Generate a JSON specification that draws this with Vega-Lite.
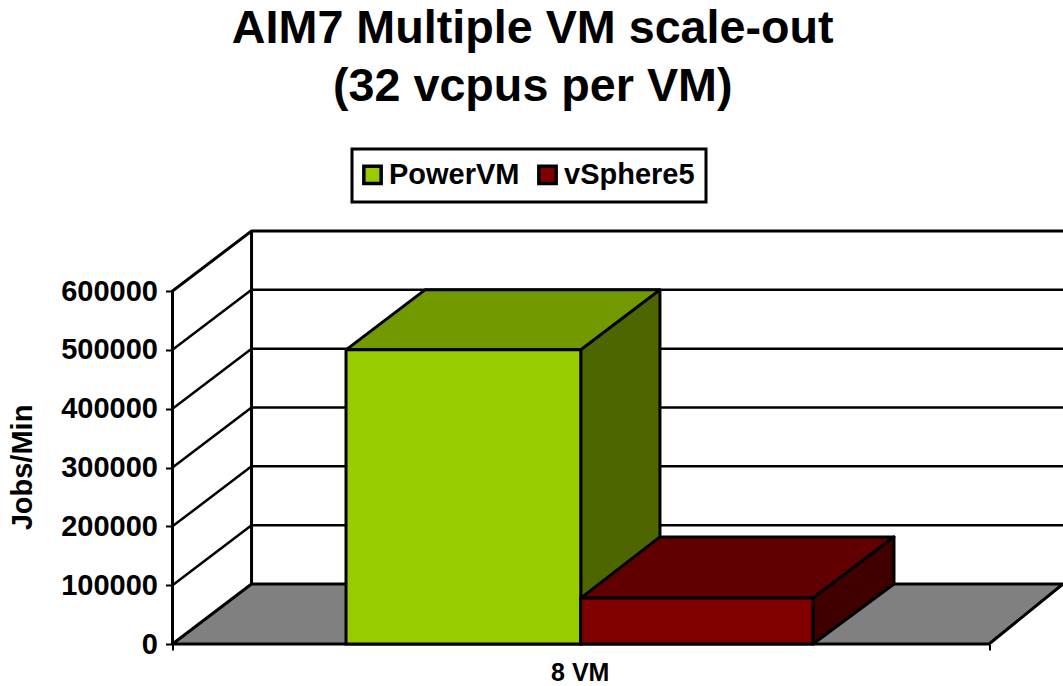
{
"$schema":"https://vega.github.io/schema/vega-lite/v6.json",
"width":890.5,"height":414,
"autosize":{"type":"none"},
"padding":{"left":172.5,"top":230,"right":0,"bottom":42},
"background":"white",
"view":{"stroke":null},
"title":{"text":["AIM7 Multiple VM scale-out","(32 vcpus per VM)"],"font":"Liberation Sans","fontWeight":"bold","fontSize":46.7,"lineHeight":58,"color":"#000000","anchor":"middle","dx":-85,"offset":37,"frame":"group"},
"datasets":{
"faces":[
{"face":"floor","i":0,"x":0,"y":0},{"face":"floor","i":1,"x":1,"y":0},{"face":"floor","i":2,"x":1.0906,"y":102000},{"face":"floor","i":3,"x":0.0968,"y":102000},{"face":"floor","i":4,"x":0,"y":0},
{"face":"PowerVM top","i":0,"x":0.2125,"y":500000},{"face":"PowerVM top","i":1,"x":0.5,"y":500000},{"face":"PowerVM top","i":2,"x":0.597,"y":602000},{"face":"PowerVM top","i":3,"x":0.3092,"y":602000},{"face":"PowerVM top","i":4,"x":0.2125,"y":500000},
{"face":"PowerVM side","i":0,"x":0.5,"y":500000},{"face":"PowerVM side","i":1,"x":0.597,"y":602000},{"face":"PowerVM side","i":2,"x":0.597,"y":102000},{"face":"PowerVM side","i":3,"x":0.5,"y":0},{"face":"PowerVM side","i":4,"x":0.5,"y":500000},
{"face":"vSphere5 top","i":0,"x":0.5,"y":78000},{"face":"vSphere5 top","i":1,"x":0.7844,"y":78000},{"face":"vSphere5 top","i":2,"x":0.8836,"y":182000},{"face":"vSphere5 top","i":3,"x":0.597,"y":182000},{"face":"vSphere5 top","i":4,"x":0.5,"y":78000},
{"face":"vSphere5 side","i":0,"x":0.7844,"y":78000},{"face":"vSphere5 side","i":1,"x":0.8836,"y":182000},{"face":"vSphere5 side","i":2,"x":0.8836,"y":102000},{"face":"vSphere5 side","i":3,"x":0.7844,"y":0},{"face":"vSphere5 side","i":4,"x":0.7844,"y":78000}
],
"walls":[
{"edge":"outer","i":0,"x":0,"y":0},{"edge":"outer","i":1,"x":0,"y":600000},{"edge":"outer","i":2,"x":0.0968,"y":702000},{"edge":"outer","i":3,"x":1.0906,"y":702000},
{"edge":"corner","i":0,"x":0.0968,"y":102000},{"edge":"corner","i":1,"x":0.0968,"y":702000}
],
"grid":[
{"level":100000,"i":0,"x":0,"y":100000},{"level":100000,"i":1,"x":0.0968,"y":202000},{"level":100000,"i":2,"x":1.0906,"y":202000},
{"level":200000,"i":0,"x":0,"y":200000},{"level":200000,"i":1,"x":0.0968,"y":302000},{"level":200000,"i":2,"x":1.0906,"y":302000},
{"level":300000,"i":0,"x":0,"y":300000},{"level":300000,"i":1,"x":0.0968,"y":402000},{"level":300000,"i":2,"x":1.0906,"y":402000},
{"level":400000,"i":0,"x":0,"y":400000},{"level":400000,"i":1,"x":0.0968,"y":502000},{"level":400000,"i":2,"x":1.0906,"y":502000},
{"level":500000,"i":0,"x":0,"y":500000},{"level":500000,"i":1,"x":0.0968,"y":602000},{"level":500000,"i":2,"x":1.0906,"y":602000}
],
"bars":[
{"series":"PowerVM","start":0.2125,"end":0.5,"jobs":500000},
{"series":"vSphere5","start":0.5,"end":0.7844,"jobs":78000}
]
},
"layer":[
{"data":{"name":"grid"},
"mark":{"type":"line","stroke":"#000000","strokeWidth":2.5},
"encoding":{
"x":{"field":"x","type":"quantitative","scale":{"domain":[0,1.0906],"nice":false,"zero":false},
"axis":{"title":null,"values":[0,0.5,1],"labelExpr":"datum.value==0.5?'8 VM':''","grid":false,"domain":false,"tickColor":"#000000","tickWidth":2,"tickSize":6,"tickOpacity":{"condition":{"test":"datum.value==0.5","value":0},"value":1},"labelFont":"Liberation Sans","labelFontWeight":"bold","labelFontSize":25,"labelColor":"#000000","labelPadding":10,"labelOverlap":false,"labelOffset":-1}},
"y":{"field":"y","type":"quantitative","scale":{"domain":[0,703700],"nice":false},
"axis":{"title":"Jobs/Min","titleY":237,"values":[0,100000,200000,300000,400000,500000,600000],"format":"d","grid":false,"domain":false,"tickColor":"#000000","tickWidth":2,"tickSize":7,"labelFont":"Liberation Sans","labelFontWeight":"bold","labelFontSize":29,"labelColor":"#000000","labelPadding":8,"labelOverlap":false,"titleFont":"Liberation Sans","titleFontWeight":"bold","titleFontSize":29,"titleColor":"#000000","titlePadding":23}},
"detail":{"field":"level"},
"order":{"field":"i","type":"quantitative"}}},
{"data":{"name":"walls"},
"mark":{"type":"line","stroke":"#000000","strokeWidth":3},
"encoding":{
"x":{"field":"x","type":"quantitative"},
"y":{"field":"y","type":"quantitative"},
"detail":{"field":"edge"},
"order":{"field":"i","type":"quantitative"}}},
{"data":{"name":"faces"},
"mark":{"type":"line","stroke":"#000000","strokeWidth":3,"strokeJoin":"round"},
"encoding":{
"x":{"field":"x","type":"quantitative"},
"y":{"field":"y","type":"quantitative"},
"fill":{"field":"face","type":"nominal","legend":null,"scale":{"domain":["floor","PowerVM top","PowerVM side","vSphere5 top","vSphere5 side"],"range":["#808080","#739900","#4D6600","#600000","#400000"]}},
"order":{"field":"i","type":"quantitative"}}},
{"data":{"name":"bars"},
"mark":{"type":"rect","stroke":"#000000","strokeWidth":3},
"encoding":{
"x":{"field":"start","type":"quantitative"},
"x2":{"field":"end"},
"y":{"field":"jobs","type":"quantitative"},
"y2":{"datum":0},
"color":{"field":"series","type":"nominal","scale":{"domain":["PowerVM","vSphere5"],"range":["#99CC00","#800000"]},
"legend":{"title":null,"orient":"none","legendX":179.5,"legendY":-81,"direction":"horizontal","columns":2,"strokeColor":"#000000","fillColor":"white","padding":11,"symbolType":"square","symbolSize":300,"symbolOffset":-5,"symbolStrokeColor":"#000000","symbolStrokeWidth":3.5,"labelFont":"Liberation Sans","labelFontWeight":"bold","labelFontSize":29,"labelColor":"#000000","labelOffset":2,"columnPadding":11,"labelExpr":"datum.label=='vSphere5'?datum.label+' ':datum.label","encode":{"legend":{"update":{"strokeWidth":{"value":3}}}}}}}}
]
}
